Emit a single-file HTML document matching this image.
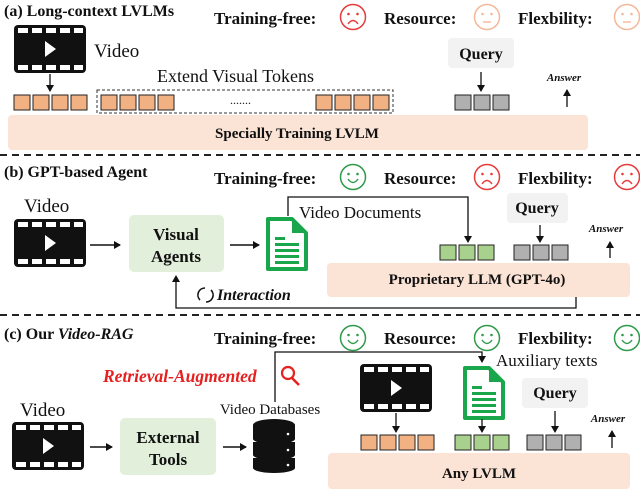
<!DOCTYPE html>
<html><head><meta charset="utf-8"><style>
html,body{margin:0;padding:0;background:#fff;width:640px;height:489px;overflow:hidden}
svg{display:block}
text{font-family:"Liberation Serif",serif;fill:#111}
.b{font-weight:bold}
</style></head><body>
<svg width="640" height="489" viewBox="0 0 640 489" xmlns="http://www.w3.org/2000/svg">
<defs>
<marker id="ar" markerWidth="8" markerHeight="8" refX="6" refY="4" orient="auto" markerUnits="userSpaceOnUse"><path d="M0,0 L7,4 L0,8 Z" fill="#111"/></marker>
<g id="vid">
<rect x="0" y="0" width="72" height="48" rx="4" fill="#111"/>
<g fill="#fff"><rect x="4" y="3" width="10" height="5"/><rect x="18" y="3" width="10" height="5"/><rect x="32" y="3" width="10" height="5"/><rect x="46" y="3" width="10" height="5"/><rect x="60" y="3" width="9" height="5"/>
<rect x="4" y="40" width="10" height="5"/><rect x="18" y="40" width="10" height="5"/><rect x="32" y="40" width="10" height="5"/><rect x="46" y="40" width="10" height="5"/><rect x="60" y="40" width="9" height="5"/>
<path d="M31,16 L42,24 L31,32 Z"/></g>
</g>
<g id="doc">
<path d="M2,2 L26,2 L40,16 L40,52 L2,52 Z" fill="#fff" stroke="#1aa64a" stroke-width="4" stroke-linejoin="round"/>
<path d="M26,2 L26,16 L40,16" fill="#1aa64a"/>
<g fill="#1aa64a"><rect x="9" y="20" width="10" height="3"/><rect x="9" y="26" width="24" height="3"/><rect x="9" y="32" width="24" height="3"/><rect x="9" y="38" width="24" height="3"/><rect x="9" y="44" width="24" height="3"/></g>
</g>
<g id="or"><rect width="16" height="15" fill="#f2b183" stroke="#222" stroke-width="1"/></g>
<g id="gr"><rect width="16" height="15" fill="#a9d18e" stroke="#222" stroke-width="1"/></g>
<g id="gy"><rect width="16" height="15" fill="#b0b0b0" stroke="#222" stroke-width="1"/></g>
<g id="sad"><circle r="12.5" fill="none" stroke="#e53b3b" stroke-width="1.5"/><circle cx="-4.5" cy="-3" r="1.3" fill="#e53b3b"/><circle cx="4.5" cy="-3" r="1.3" fill="#e53b3b"/><path d="M-5,7 Q0,0 5,7" fill="none" stroke="#e53b3b" stroke-width="1.4"/></g>
<g id="neu"><circle r="12.5" fill="none" stroke="#f4b89a" stroke-width="1.5"/><circle cx="-4.5" cy="-3" r="1.3" fill="#f4b89a"/><circle cx="4.5" cy="-3" r="1.3" fill="#f4b89a"/><path d="M-4,5 L4,5" stroke="#f4b89a" stroke-width="1.4"/></g>
<g id="hap"><circle r="12.5" fill="none" stroke="#2e9a4a" stroke-width="1.5"/><circle cx="-4.5" cy="-3" r="1.3" fill="#2e9a4a"/><circle cx="4.5" cy="-3" r="1.3" fill="#2e9a4a"/><path d="M-5,2 Q0,9 5,2" fill="none" stroke="#2e9a4a" stroke-width="1.4"/></g>
</defs>

<!-- (a) -->
<text x="4" y="16" class="b" font-size="16">(a) Long-context LVLMs</text>
<text x="214" y="24" class="b" font-size="17">Training-free:</text>
<use href="#sad" x="353" y="17"/>
<text x="384" y="24" class="b" font-size="17">Resource:</text>
<use href="#neu" x="487" y="17"/>
<text x="518" y="24" class="b" font-size="17">Flexbility:</text>
<use href="#neu" x="627" y="17"/>
<g transform="translate(14,25)"><use href="#vid"/></g>
<text x="94" y="57" font-size="19">Video</text>
<line x1="50" y1="74" x2="50" y2="91" stroke="#111" stroke-width="1.3" marker-end="url(#ar)"/>
<text x="157" y="82" font-size="18">Extend Visual Tokens</text>
<use href="#or" x="14" y="95"/><use href="#or" x="33" y="95"/><use href="#or" x="52" y="95"/><use href="#or" x="71" y="95"/>
<rect x="97" y="90" width="296" height="23" fill="none" stroke="#333" stroke-dasharray="3,2"/>
<use href="#or" x="101" y="95"/><use href="#or" x="120" y="95"/><use href="#or" x="139" y="95"/><use href="#or" x="158" y="95"/>
<text x="230" y="104" font-size="12">.......</text>
<use href="#or" x="316" y="95"/><use href="#or" x="335" y="95"/><use href="#or" x="354" y="95"/><use href="#or" x="373" y="95"/>
<rect x="448" y="38" width="66" height="30" rx="4" fill="#f2f2f2"/>
<text x="481" y="59" text-anchor="middle" class="b" font-size="16">Query</text>
<line x1="481" y1="72" x2="481" y2="91" stroke="#111" stroke-width="1.3" marker-end="url(#ar)"/>
<use href="#gy" x="455" y="95"/><use href="#gy" x="474" y="95"/><use href="#gy" x="493" y="95"/>
<text x="564" y="81" text-anchor="middle" class="b" font-style="italic" font-size="11">Answer</text>
<line x1="567" y1="107" x2="567" y2="90" stroke="#111" stroke-width="1.3" marker-end="url(#ar)"/>
<rect x="8" y="115" width="580" height="35" rx="4" fill="#fbe3d6"/>
<text x="297" y="138" text-anchor="middle" class="b" font-size="15">Specially Training LVLM</text>
<line x1="0" y1="155" x2="640" y2="155" stroke="#222" stroke-width="2" stroke-dasharray="7,5"/>

<!-- (b) -->
<text x="4" y="177" class="b" font-size="16">(b) GPT-based Agent</text>
<text x="214" y="184" class="b" font-size="17">Training-free:</text>
<use href="#hap" x="353" y="177"/>
<text x="384" y="184" class="b" font-size="17">Resource:</text>
<use href="#sad" x="487" y="177"/>
<text x="518" y="184" class="b" font-size="17">Flexbility:</text>
<use href="#sad" x="627" y="177"/>
<text x="24" y="212" font-size="19">Video</text>
<g transform="translate(14,219)"><use href="#vid"/></g>
<line x1="90" y1="245" x2="120" y2="245" stroke="#111" stroke-width="1.5" marker-end="url(#ar)"/>
<rect x="129" y="215" width="95" height="57" rx="5" fill="#e2efda"/>
<text x="176" y="240" text-anchor="middle" class="b" font-size="17">Visual</text>
<text x="176" y="262" text-anchor="middle" class="b" font-size="17">Agents</text>
<line x1="230" y1="245" x2="259" y2="245" stroke="#111" stroke-width="1.5" marker-end="url(#ar)"/>
<g transform="translate(266,217)"><use href="#doc"/></g>
<path d="M288,216 L288,197 L468,197 L468,242" fill="none" stroke="#111" stroke-width="1.3" marker-end="url(#ar)"/>
<text x="299" y="218" font-size="17">Video Documents</text>
<use href="#gr" x="440" y="245"/><use href="#gr" x="459" y="245"/><use href="#gr" x="478" y="245"/>
<rect x="507" y="193" width="61" height="30" rx="4" fill="#f2f2f2"/>
<text x="537" y="213" text-anchor="middle" class="b" font-size="16">Query</text>
<line x1="540" y1="225" x2="540" y2="242" stroke="#111" stroke-width="1.3" marker-end="url(#ar)"/>
<use href="#gy" x="514" y="245"/><use href="#gy" x="533" y="245"/><use href="#gy" x="552" y="245"/>
<text x="606" y="232" text-anchor="middle" class="b" font-style="italic" font-size="11">Answer</text>
<line x1="610" y1="258" x2="610" y2="242" stroke="#111" stroke-width="1.3" marker-end="url(#ar)"/>
<rect x="327" y="263" width="303" height="34" rx="4" fill="#fbe3d6"/>
<text x="477" y="284" text-anchor="middle" class="b" font-size="15">Proprietary LLM (GPT-4o)</text>
<path d="M576,297 L576,308 L176,308 L176,276" fill="none" stroke="#111" stroke-width="1.3" marker-end="url(#ar)"/>
<path d="M205,288 A7,7 0 0,0 200,300" fill="none" stroke="#111" stroke-width="1.6"/>
<path d="M206,302 A7,7 0 0,0 211,290" fill="none" stroke="#111" stroke-width="1.6"/>
<text x="217" y="300" class="b" font-style="italic" font-size="16">Interaction</text>
<line x1="0" y1="315" x2="640" y2="315" stroke="#222" stroke-width="2" stroke-dasharray="7,5"/>

<!-- (c) -->
<text x="4" y="339" class="b" font-size="16">(c) Our <tspan font-style="italic">Video-RAG</tspan></text>
<text x="214" y="344" class="b" font-size="17">Training-free:</text>
<use href="#hap" x="353" y="338"/>
<text x="384" y="344" class="b" font-size="17">Resource:</text>
<use href="#hap" x="487" y="338"/>
<text x="518" y="344" class="b" font-size="17">Flexbility:</text>
<use href="#hap" x="627" y="338"/>
<path d="M275,402 L275,352 L482,352 L482,362" fill="none" stroke="#111" stroke-width="1.3" marker-end="url(#ar)"/>
<text x="496" y="366" font-size="17">Auxiliary texts</text>
<text x="103" y="382" class="b" font-style="italic" font-size="17.5" style="fill:#e52020">Retrieval-Augmented</text>
<circle cx="288" cy="373" r="6" fill="none" stroke="#e52020" stroke-width="2.2"/>
<line x1="292" y1="378" x2="299" y2="385" stroke="#e52020" stroke-width="2.5"/>
<text x="20" y="416" font-size="19">Video</text>
<g transform="translate(12,422)"><use href="#vid"/></g>
<line x1="90" y1="447" x2="112" y2="447" stroke="#111" stroke-width="1.5" marker-end="url(#ar)"/>
<rect x="120" y="418" width="96" height="57" rx="5" fill="#e2efda"/>
<text x="168" y="443" text-anchor="middle" class="b" font-size="17">External</text>
<text x="168" y="465" text-anchor="middle" class="b" font-size="17">Tools</text>
<line x1="223" y1="447" x2="246" y2="447" stroke="#111" stroke-width="1.5" marker-end="url(#ar)"/>
<text x="270" y="414" text-anchor="middle" font-size="15">Video Databases</text>
<g fill="#111">
<ellipse cx="274" cy="425" rx="21" ry="6"/>
<rect x="253" y="425" width="42" height="14" /><ellipse cx="274" cy="439" rx="21" ry="5"/>
<rect x="253" y="442" width="42" height="13"/><ellipse cx="274" cy="455" rx="21" ry="5"/>
<rect x="253" y="458" width="42" height="10"/><ellipse cx="274" cy="468" rx="21" ry="5"/>
</g>
<g fill="#fff"><circle cx="288" cy="434" r="1.3"/><circle cx="288" cy="450" r="1.3"/><circle cx="288" cy="465" r="1.3"/></g>
<g transform="translate(360,364)"><use href="#vid"/></g>
<line x1="396" y1="413" x2="396" y2="432" stroke="#111" stroke-width="1.3" marker-end="url(#ar)"/>
<g transform="translate(463,366)"><use href="#doc"/></g>
<line x1="482" y1="419" x2="482" y2="432" stroke="#111" stroke-width="1.3" marker-end="url(#ar)"/>
<rect x="522" y="378" width="66" height="30" rx="4" fill="#f2f2f2"/>
<text x="555" y="398" text-anchor="middle" class="b" font-size="16">Query</text>
<line x1="555" y1="411" x2="555" y2="432" stroke="#111" stroke-width="1.3" marker-end="url(#ar)"/>
<use href="#or" x="361" y="435"/><use href="#or" x="380" y="435"/><use href="#or" x="399" y="435"/><use href="#or" x="418" y="435"/>
<use href="#gr" x="455" y="435"/><use href="#gr" x="474" y="435"/><use href="#gr" x="493" y="435"/>
<use href="#gy" x="527" y="435"/><use href="#gy" x="546" y="435"/><use href="#gy" x="565" y="435"/>
<text x="608" y="422" text-anchor="middle" class="b" font-style="italic" font-size="11">Answer</text>
<line x1="612" y1="448" x2="612" y2="431" stroke="#111" stroke-width="1.3" marker-end="url(#ar)"/>
<rect x="328" y="453" width="302" height="36" rx="4" fill="#fbe3d6"/>
<text x="479" y="478" text-anchor="middle" class="b" font-size="15">Any LVLM</text>
</svg>
</body></html>
